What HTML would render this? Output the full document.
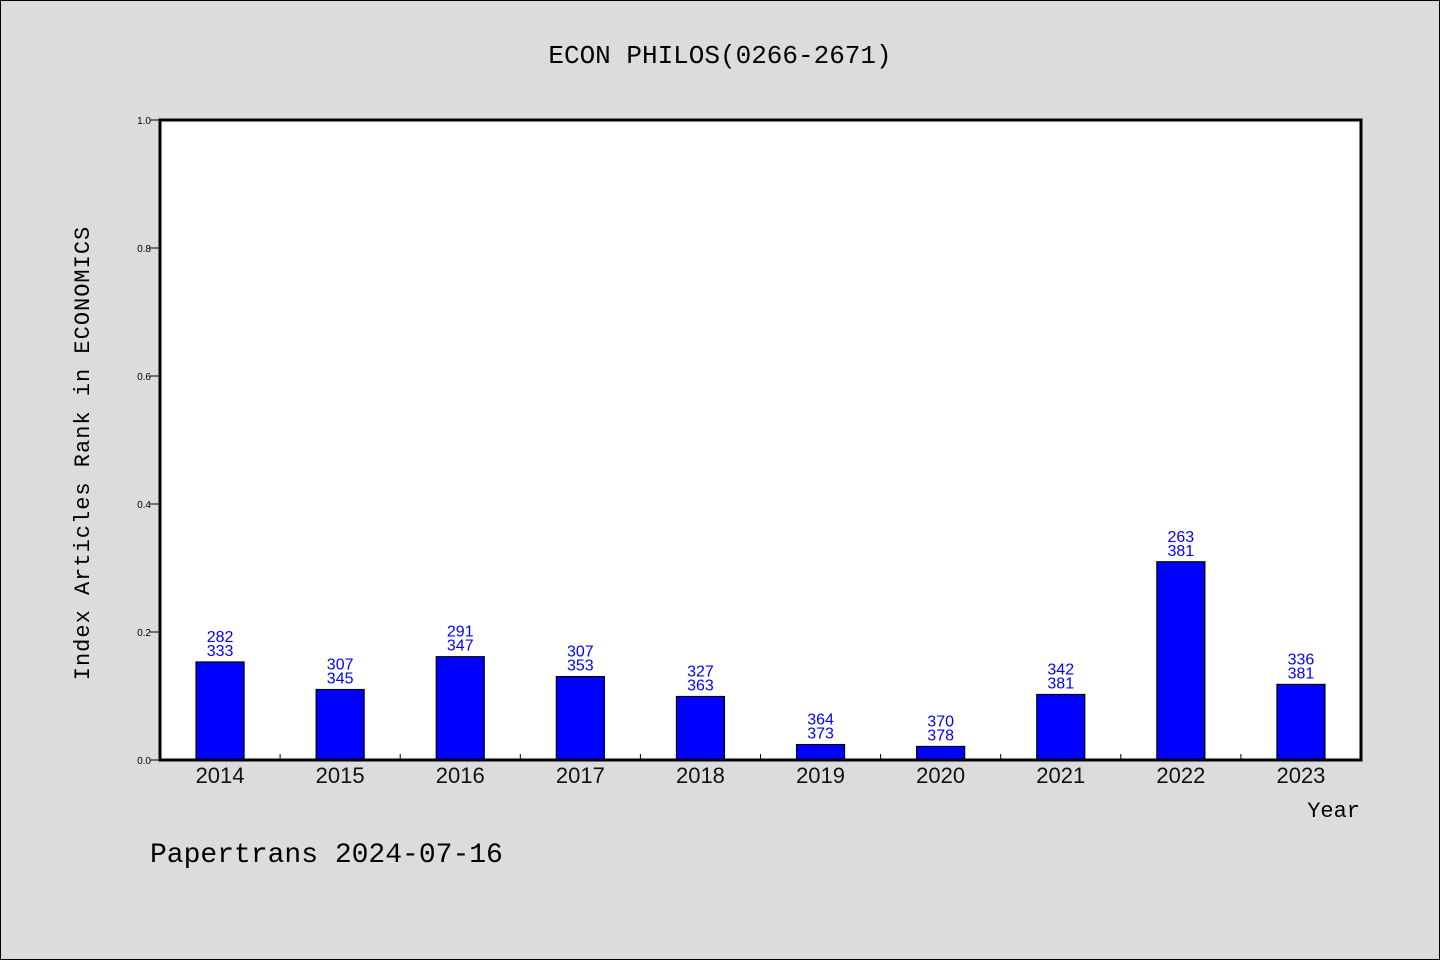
<!DOCTYPE html>
<html><head><meta charset="utf-8"><style>
body{margin:0;background:#dcdcdc;}
svg{display:block;font-family:"Liberation Sans","WenQuanYi Zen Hei",sans-serif;}
</style></head><body>
<svg id="chart" width="1440" height="960">
<rect x="0.5" y="0.5" width="1439" height="959" fill="#dcdcdc" stroke="#000"/>
<text x="720" y="63" text-anchor="middle" font-size="26" font-family="WenQuanYi Zen Hei, Liberation Mono, monospace">ECON PHILOS(0266-2671)</text>
<rect x="160" y="120" width="1201" height="640" fill="#fff"/>
<g id="yticks"></g><g id="bars"></g><g id="xticks"></g>
<rect x="160" y="120" width="1201" height="640" fill="none" stroke="#000" stroke-width="3"/>
<text transform="translate(89,453) rotate(-90)" text-anchor="middle" font-size="22" font-family="WenQuanYi Zen Hei, Liberation Mono, monospace" letter-spacing="1">Index Articles Rank in ECONOMICS</text>
<text x="1360" y="817" text-anchor="end" font-size="22" font-family="WenQuanYi Zen Hei, Liberation Mono, monospace">Year</text>
<text x="150" y="862" font-size="28" font-family="WenQuanYi Zen Hei, Liberation Mono, monospace">Papertrans 2024-07-16</text>
</svg>
<script>
const years=["2014","2015","2016","2017","2018","2019","2020","2021","2022","2023"];
const ranks=[282,307,291,307,327,364,370,342,263,336];
const totals=[333,345,347,353,363,373,378,381,381,381];
const yTickLabels=["0.0","0.2","0.4","0.6","0.8","1.0"];
const yTickValues=[0,0.2,0.4,0.6,0.8,1.0];
const NS="http://www.w3.org/2000/svg";
const x0=160,x1=1361,y0=760,y1=120;
const band=(x1-x0)/years.length;
const xc=i=>x0+band*(i+0.5);
const ys=v=>y0-(y0-y1)*v;
function mk(tag,attrs,parent,txt){const e=document.createElementNS(NS,tag);for(const k in attrs)e.setAttribute(k,attrs[k]);if(txt!==undefined)e.textContent=txt;parent.appendChild(e);return e;}
const gy=document.getElementById('yticks'),gb=document.getElementById('bars'),gx=document.getElementById('xticks');
yTickValues.forEach((v,i)=>{
  const l=mk('line',{x1:150,x2:160,y1:ys(v),y2:ys(v),stroke:'#000'},gy);
  
  
  const t=mk('text',{x:151,y:ys(v)+4,'text-anchor':'end','font-size':10},gy,yTickLabels[i]);
  
  
});
years.forEach((yr,i)=>{
  const v=1-ranks[i]/totals[i];
  const c=xc(i),top=ys(v);
  const r=mk('rect',{x:c-24,y:top,width:48,height:y0-top,fill:'#0000ff',stroke:'#000','stroke-width':1.2},gb);
  
  
  const a=mk('text',{x:c,y:top-20,'text-anchor':'middle','font-size':16,fill:'#0000ff'},gb,String(ranks[i]));
  
  
  const b=mk('text',{x:c,y:top-6,'text-anchor':'middle','font-size':16,fill:'#0000ff'},gb,String(totals[i]));
  
  
  const xl=mk('text',{x:c,y:783,'text-anchor':'middle','font-size':22,fill:'#111'},gx,yr);
  
  
  if(i>0){
    const tk=mk('line',{x1:x0+band*i,x2:x0+band*i,y1:760,y2:754,stroke:'#000'},gx);
    
    
  }
});
</script>
</body></html>
